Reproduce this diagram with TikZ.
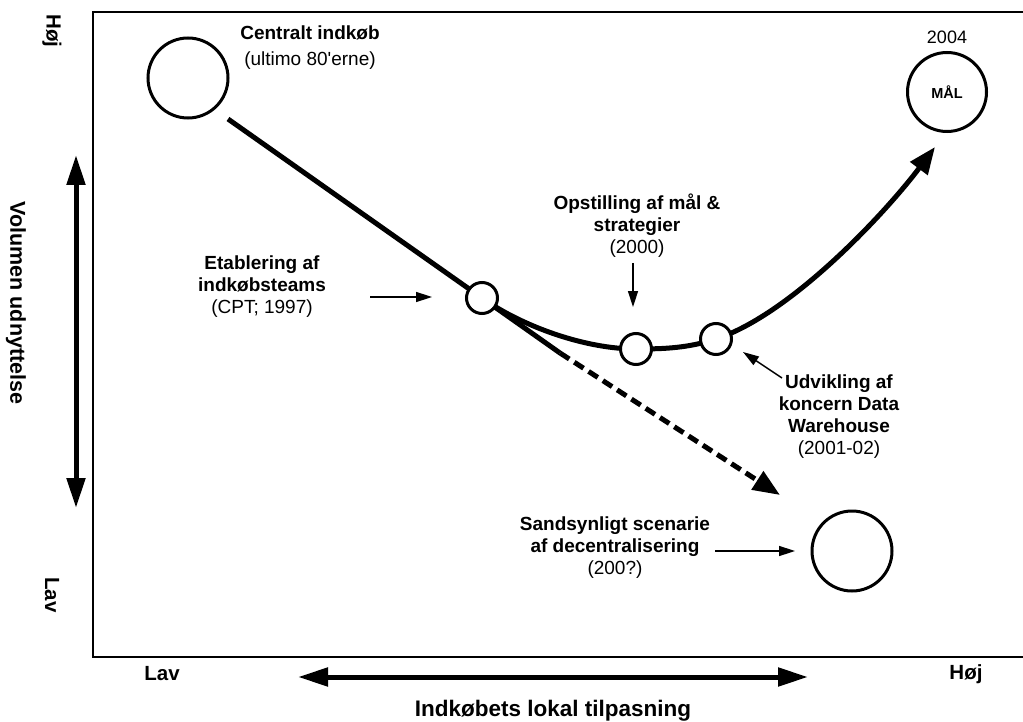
\documentclass[tikz,border=0pt]{standalone}
\usepackage{fontspec}
\setmainfont{Liberation Sans}[Ligatures=TeXOff]
\usetikzlibrary{arrows.meta}
\pgfdeclarelayer{background}
\pgfsetlayers{background,main}

\begin{document}
\begin{tikzpicture}[x=1pt,y=-1pt,
  lbl/.style={font=\fontsize{19}{22}\selectfont, align=center, inner sep=0pt},
  axislbl/.style={font=\fontsize{20.5}{24}\selectfont\bfseries, inner sep=0pt},
  axistitle/.style={font=\fontsize{21.5}{26}\selectfont\bfseries, inner sep=0pt},
  ring/.style={circle, draw, line width=3pt, fill=white, inner sep=0pt},
  bigring/.style={ring, minimum size=80pt},
  smallring/.style={ring, minimum size=31pt},
  pointer/.style={line width=1.5pt, -{Triangle[length=16pt,width=10pt]}},
  trend/.style={line width=5pt},
  bigtip/.style={-{Triangle[length=27pt,width=21pt]}},
  axisarrow/.style={line width=5pt, {Triangle[length=30pt,width=18pt]}-{Triangle[length=30pt,width=18pt]}}
]
\useasboundingbox (0,0) rectangle (1023,722);

% frame of the chart area (open on the right)
\draw[line width=1.2pt] (1023,12) -- (93,12) -- (93,657) -- (1023,657);

% stages
\node[bigring] (central) at (188,78) {};
\node[bigring, minimum size=79pt, font=\fontsize{14.5}{16}\selectfont\bfseries] (goal) at (947,92) {MÅL};
\node[bigring] (scenario) at (852,551) {};
\node[smallring] (cpt) at (482,298) {};
\node[smallring] (strat) at (636,349) {};
\node[smallring] (dwh) at (716,339) {};

% points on the trend lines
\coordinate (lineStart) at (228,119);
\coordinate (split) at (560,353);
\coordinate (scenTip) at (780,495);
\coordinate (goalTip) at (935,147);

\begin{pgfonlayer}{background}
  \draw[trend] (lineStart) -- (cpt.center) -- (split);
  \draw[trend, dash pattern=on 11pt off 6pt, bigtip] (split) -- (scenTip);
  \draw[trend, bigtip] (cpt.center)
    .. controls (523,327) and (586,349) .. (strat.center)
    .. controls (665,349) and (688,348) .. (dwh.center)
    .. controls (792,314) and (887,211) .. (goalTip);
\end{pgfonlayer}

% labels
\node[lbl] (centralTxt) at (310,48) {\textbf{Centralt indkøb}\\[4pt](ultimo 80'erne)};
\node[lbl, font=\fontsize{18}{20}\selectfont] (goalYear) at (947,37) {2004};
\node[lbl] (cptTxt) at (262,287) {\textbf{Etablering af}\\\textbf{indkøbsteams}\\(CPT; 1997)};
\node[lbl] (stratTxt) at (637,226) {\textbf{Opstilling af mål \&}\\\textbf{strategier}\\(2000)};
\node[lbl] (dwhTxt) at (839,417) {\textbf{Udvikling af}\\\textbf{koncern Data}\\\textbf{Warehouse}\\(2001-02)};
\node[lbl] (scenTxt) at (615,548) {\textbf{Sandsynligt scenarie}\\\textbf{af decentralisering}\\(200?)};

% label pointers
\coordinate (cptFrom) at (370,297);
\coordinate (cptTo) at (432,297);
\draw[pointer] (cptFrom) -- (cptTo);
\coordinate (stratFrom) at (633,263);
\coordinate (stratTo) at (633,307);
\draw[pointer] (stratFrom) -- (stratTo);
\coordinate (dwhFrom) at (782,378);
\coordinate (dwhTo) at (743,352);
\draw[pointer] (dwhFrom) -- (dwhTo);
\coordinate (scenFrom) at (715,551);
\coordinate (scenTo) at (795,551);
\draw[pointer] (scenFrom) -- (scenTo);

% vertical axis
\node[axislbl, rotate=-90] (yHigh) at (52,31) {Høj};
\node[axislbl, rotate=-90] (yLow) at (52,595) {Lav};
\node[axistitle, rotate=-90] (yTitle) at (16,303) {Volumen udnyttelse};
\coordinate (yTop) at (76,155);
\coordinate (yBot) at (76,508);
\draw[axisarrow] (yTop) -- (yBot);

% horizontal axis
\node[axislbl] (xLow) at (162,674) {Lav};
\node[axislbl] (xHigh) at (966,674) {Høj};
\node[axistitle, font=\fontsize{22.5}{26}\selectfont\bfseries] (xTitle) at (553,711) {Indkøbets lokal tilpasning};
\coordinate (xLeft) at (298,677);
\coordinate (xRight) at (808,677);
\draw[axisarrow] (xLeft) -- (xRight);
\end{tikzpicture}
\end{document}
